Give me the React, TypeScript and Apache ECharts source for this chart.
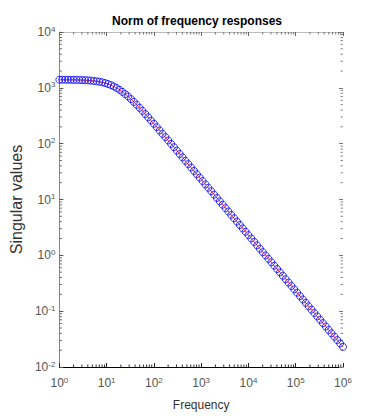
import React, { useEffect, useRef } from 'react';
import * as echarts from 'echarts';

// Frequencies (log-spaced samples, 1 .. 1e6)
const frequency = [
  1, 1.15, 1.322, 1.52, 1.748, 2.009, 2.31, 2.656, 3.054, 3.511,
  4.037, 4.642, 5.337, 6.136, 7.055, 8.111, 9.326, 10.72, 12.33, 14.17,
  16.3, 18.74, 21.54, 24.77, 28.48, 32.75, 37.65, 43.29, 49.77, 57.22,
  65.79, 75.65, 86.98,
  100, 115, 132.2, 152, 174.8, 200.9, 231, 265.6, 305.4, 351.1,
  403.7, 464.2, 533.7, 613.6, 705.5, 811.1, 932.6, 1072, 1233, 1417,
  1630, 1874, 2154, 2477, 2848, 3275, 3765, 4329, 4977, 5722,
  6579, 7565, 8698,
  10000, 11500, 13220, 15200, 17480, 20090, 23100, 26560, 30540, 35110,
  40370, 46420, 53370, 61360, 70550, 81110, 93260, 107200, 123300, 141700,
  163000, 187400, 215400, 247700, 284800, 327500, 376500, 432900, 497700, 572200,
  657900, 756500, 869800, 1000000,
];

// Singular values
const singularValues = [
  1397, 1397, 1396, 1394, 1392, 1390, 1386, 1382, 1376, 1369,
  1359, 1347, 1331, 1311, 1286, 1255, 1217, 1172, 1119, 1059,
  993, 922, 848, 773, 699, 627, 559, 496, 438, 386,
  339, 297, 259, 227, 198, 172, 150, 131, 114, 99.1,
  86.3, 75.1, 65.3, 56.8, 49.4, 43.0, 37.4, 32.5, 28.3, 24.6,
  21.4, 18.6, 16.2, 14.1, 12.25, 10.66, 9.27, 8.06, 7.01, 6.1,
  5.3, 4.61, 4.01, 3.49, 3.03, 2.64, 2.3, 2.0, 1.74, 1.51,
  1.31, 1.14, 0.994, 0.864, 0.752, 0.654, 0.569, 0.495, 0.43, 0.374,
  0.325, 0.283, 0.246, 0.214, 0.186, 0.162, 0.141, 0.1225, 0.1066, 0.0927,
  0.0806, 0.0701, 0.061, 0.053, 0.0461, 0.0401, 0.0349, 0.0303, 0.0264, 0.023,
];

const X_MIN = 1;
const X_MAX = 1e6;
const Y_MIN = 0.01;
const Y_MAX = 1e4;
const minorFactors = [2, 3, 4, 5, 6, 7, 8, 9];
const xDecades = [1, 10, 100, 1000, 10000, 100000];
const yDecades = [0.01, 0.1, 1, 10, 100, 1000];

const TITLE = 'Norm of frequency responses';
const X_NAME = 'Frequency';
const Y_NAME = 'Singular values';

const FONT = '"Liberation Sans Narrow", "Liberation Sans", Arial, sans-serif';
const FONT_WIDE = '"Liberation Sans", Arial, sans-serif';

const expLabel = (v: number) => {
  const e = Math.round(Math.log10(v));
  return `{b|10}{s|${e}}`;
};

const richLabels = {
  b: { fontSize: 12, lineHeight: 14, verticalAlign: 'middle', color: '#555', fontFamily: FONT },
  s: { fontSize: 8, lineHeight: 6, verticalAlign: 'top', color: '#555', fontFamily: FONT },
};

export default function App() {
  const ref = useRef<HTMLDivElement>(null);
  useEffect(() => {
    document.body.style.margin = '0';
    const chart = echarts.init(ref.current!, null, { renderer: 'svg' });
    const xMinor: number[][] = [];
    xDecades.forEach((d) => minorFactors.forEach((f) => xMinor.push([d * f, Y_MIN])));
    const yMinor: number[][] = [];
    yDecades.forEach((d) => minorFactors.forEach((f) => yMinor.push([X_MIN, d * f])));

    chart.setOption({
      animation: false,
      backgroundColor: '#fff',
      grid: { left: 49, top: 32, width: 294, height: 337 },
      graphic: [
        {
          type: 'text',
          x: 197,
          y: 21,
          style: {
            text: TITLE,
            fontSize: 12,
            fontWeight: 'bold',
            fontFamily: FONT,
            fill: '#000',
            align: 'center',
            verticalAlign: 'middle',
          },
        },
      ],
      xAxis: [
        {
          type: 'log',
          logBase: 10,
          min: X_MIN,
          max: X_MAX,
          interval: 1,
          position: 'bottom',
          splitLine: { show: false },
          axisLine: { lineStyle: { color: '#000', width: 1 } },
          axisTick: { inside: true, length: 4, lineStyle: { color: '#222' } },
          axisLabel: { margin: 9, formatter: expLabel, rich: richLabels },
          name: X_NAME,
          nameLocation: 'middle',
          nameGap: 32,
          nameTextStyle: { fontSize: 12, color: '#333', fontFamily: FONT },
        },
        {
          type: 'log',
          logBase: 10,
          min: X_MIN,
          max: X_MAX,
          interval: 1,
          position: 'top',
          splitLine: { show: false },
          axisLine: { lineStyle: { color: '#bbb', width: 1 } },
          axisTick: { inside: true, length: 4, lineStyle: { color: '#666' } },
          axisLabel: { show: false },
        },
      ],
      yAxis: [
        {
          type: 'log',
          logBase: 10,
          min: Y_MIN,
          max: Y_MAX,
          interval: 1,
          position: 'left',
          splitLine: { show: false },
          axisLine: { lineStyle: { color: '#888', width: 1 } },
          axisTick: { inside: true, length: 4, lineStyle: { color: '#555' } },
          axisLabel: { margin: 4, formatter: expLabel, rich: richLabels },
          name: Y_NAME,
          nameLocation: 'middle',
          nameGap: 22,
          nameTextStyle: { fontSize: 16, color: '#333', fontFamily: FONT_WIDE },
        },
        {
          type: 'log',
          logBase: 10,
          min: Y_MIN,
          max: Y_MAX,
          interval: 1,
          position: 'right',
          splitLine: { show: false },
          axisLine: { show: false },
          axisTick: { inside: true, length: 4, lineStyle: { color: '#777' } },
          axisLabel: { show: false },
        },
      ],
      series: [
        {
          type: 'custom',
          xAxisIndex: 0,
          yAxisIndex: 0,
          silent: true,
          data: xMinor,
          renderItem: (_p: any, api: any) => {
            const v = api.value(0);
            const b = api.coord([v, Y_MIN]);
            const t = api.coord([v, Y_MAX]);
            return {
              type: 'group',
              children: [
                { type: 'line', shape: { x1: b[0], y1: b[1], x2: b[0], y2: b[1] - 2.5 }, style: { stroke: '#333', lineWidth: 1 } },
                { type: 'line', shape: { x1: t[0], y1: t[1], x2: t[0], y2: t[1] + 2.5 }, style: { stroke: '#777', lineWidth: 1 } },
              ],
            };
          },
        },
        {
          type: 'custom',
          xAxisIndex: 0,
          yAxisIndex: 0,
          silent: true,
          data: yMinor,
          renderItem: (_p: any, api: any) => {
            const v = api.value(1);
            const l = api.coord([X_MIN, v]);
            const r = api.coord([X_MAX, v]);
            return {
              type: 'group',
              children: [
                { type: 'line', shape: { x1: l[0], y1: l[1], x2: l[0] + 2.5, y2: l[1] }, style: { stroke: '#666', lineWidth: 1 } },
                { type: 'line', shape: { x1: r[0], y1: r[1], x2: r[0] - 2.5, y2: r[1] }, style: { stroke: '#888', lineWidth: 1 } },
              ],
            };
          },
        },
        {
          type: 'line',
          xAxisIndex: 0,
          yAxisIndex: 0,
          data: frequency.map((f, i) => [f, singularValues[i]]),
          symbol: 'circle',
          symbolSize: 7,
          showAllSymbol: true,
          clip: false,
          silent: true,
          lineStyle: { color: '#ff0000', width: 0.8 },
          itemStyle: { color: 'rgba(0,0,0,0)', borderColor: '#0000ff', borderWidth: 0.8 },
          z: 3,
        },
      ],
    });
    return () => chart.dispose();
  }, []);
  return <div ref={ref} style={{ width: 381, height: 416 }} />;
}
